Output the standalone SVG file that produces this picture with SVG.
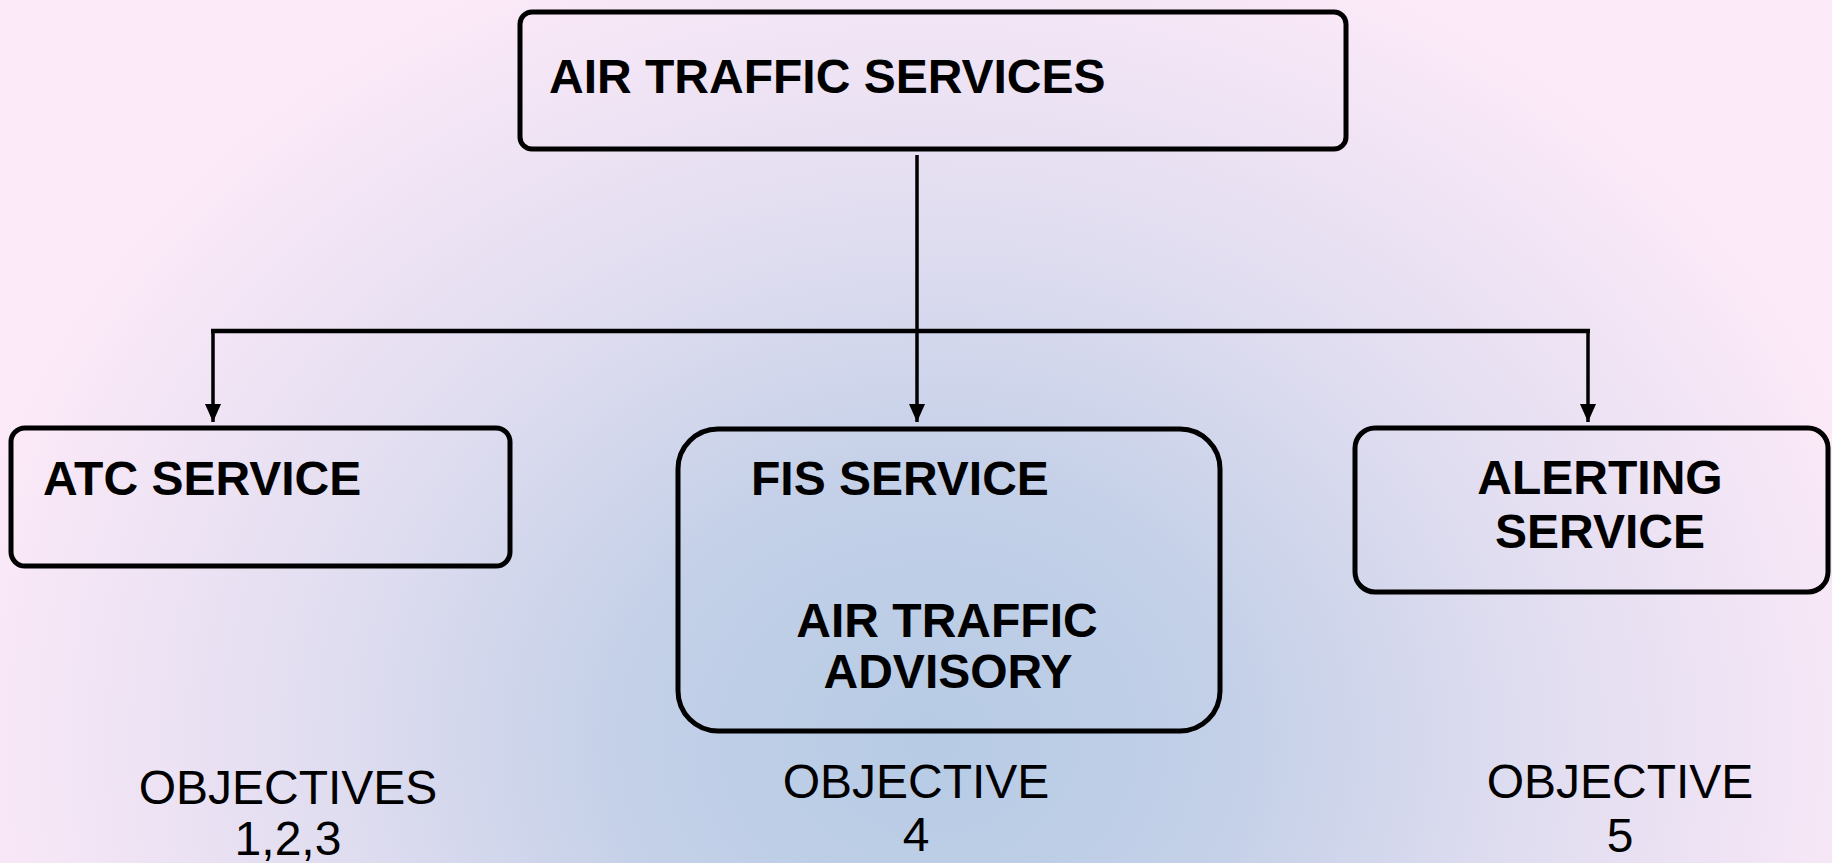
<svg xmlns="http://www.w3.org/2000/svg" width="1832" height="863" viewBox="0 0 1832 863">
<defs>
<radialGradient id="bg" gradientUnits="userSpaceOnUse" cx="930" cy="740" r="1000" gradientTransform="translate(930 740) scale(1 0.85) translate(-930 -740)">
<stop offset="0" stop-color="#B7CBE5"/>
<stop offset="0.3" stop-color="#C3D0E8"/>
<stop offset="0.6" stop-color="#E0DDF0"/>
<stop offset="1" stop-color="#FDEAF8"/>
</radialGradient>
<marker id="ah" markerWidth="18" markerHeight="16" refX="18" refY="8" orient="auto" markerUnits="userSpaceOnUse" viewBox="0 0 18 16">
<path d="M0,0 L18,8 L0,16 Z" fill="#000"/>
</marker>
<style>
.box{fill:none;stroke:#000;stroke-width:5}
.t{font-family:"Liberation Sans",Arial,sans-serif;font-weight:bold;font-size:48px;fill:#000}
.o{font-family:"Liberation Sans",Arial,sans-serif;font-size:48px;fill:#000;text-anchor:middle}
.c{fill:none;stroke:#000;stroke-width:3.5}
</style>
</defs>
<rect x="0" y="0" width="1832" height="863" fill="url(#bg)"/>
<g id="connectors">
<line class="c" x1="917" y1="155" x2="917" y2="422" marker-end="url(#ah)"/>
<line x1="211" y1="331" x2="1590" y2="331" stroke="#000" stroke-width="4.5"/>
<line class="c" x1="213" y1="331" x2="213" y2="422" marker-end="url(#ah)"/>
<line class="c" x1="1588" y1="331" x2="1588" y2="422" marker-end="url(#ah)"/>
</g>
<g id="ats">
<rect class="box" x="520" y="12" width="826" height="137" rx="12"/>
<text class="t" x="549" y="93" font-size="49">AIR TRAFFIC SERVICES</text>
</g>
<g id="atc">
<rect class="box" x="11" y="428" width="499" height="138" rx="14"/>
<text class="t" x="43" y="495">ATC SERVICE</text>
</g>
<g id="fis">
<rect class="box" x="678" y="429" width="542" height="302" rx="40"/>
<text class="t" x="751" y="495">FIS SERVICE</text>
<text class="t" x="947" y="637" text-anchor="middle">AIR TRAFFIC</text>
<text class="t" x="948" y="688" text-anchor="middle">ADVISORY</text>
</g>
<g id="alerting">
<rect class="box" x="1355" y="428" width="473" height="164" rx="20"/>
<text class="t" x="1600" y="494" text-anchor="middle">ALERTING</text>
<text class="t" x="1600" y="548" text-anchor="middle">SERVICE</text>
</g>
<g id="obj1">
<text class="o" x="288" y="804">OBJECTIVES</text>
<text class="o" x="288" y="855">1,2,3</text>
</g>
<g id="obj4">
<text class="o" x="916" y="798">OBJECTIVE</text>
<text class="o" x="916" y="851">4</text>
</g>
<g id="obj5">
<text class="o" x="1620" y="798">OBJECTIVE</text>
<text class="o" x="1620" y="852">5</text>
</g>
</svg>
